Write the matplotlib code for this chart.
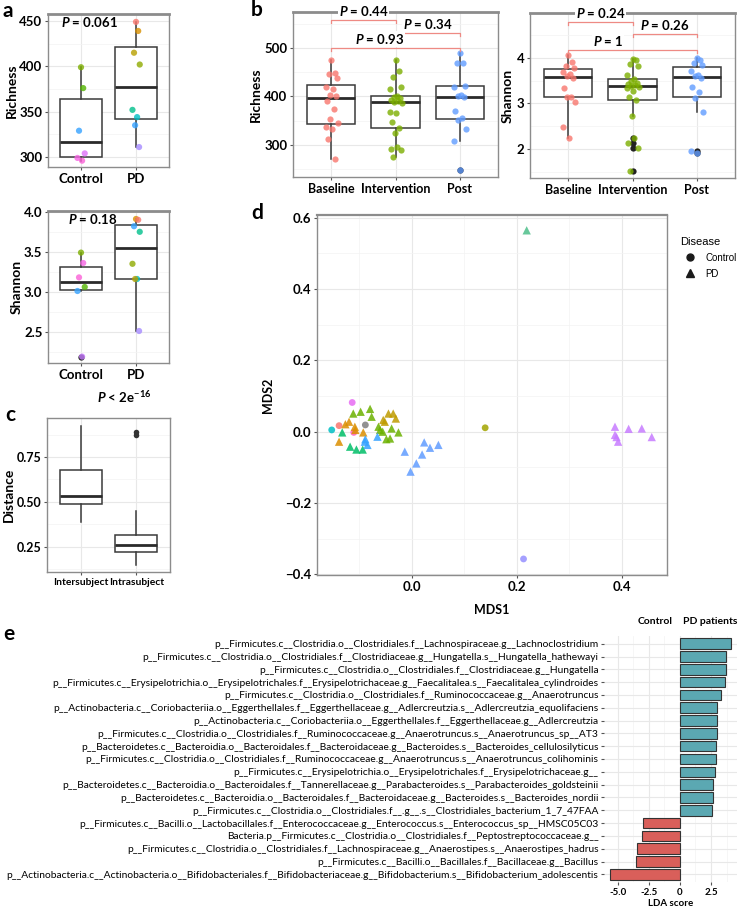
import matplotlib
matplotlib.use("Agg")
import matplotlib.pyplot as plt
from matplotlib import font_manager
from matplotlib.ticker import MultipleLocator, FormatStrFormatter, FuncFormatter
from matplotlib.lines import Line2D
import numpy as np

plt.rcParams['font.family'] = ['Lato', 'DejaVu Sans']
plt.rcParams['font.weight'] = 'bold'
plt.rcParams['axes.labelweight'] = 'bold'
plt.rcParams['mathtext.fontset'] = 'custom'
plt.rcParams['mathtext.it'] = 'Lato:bold:italic'
plt.rcParams['mathtext.rm'] = 'Lato:bold'
plt.rcParams['mathtext.bf'] = 'Lato:bold'

avail = {f.name for f in font_manager.fontManager.ttflist}
narrow = 'Liberation Sans Narrow' if 'Liberation Sans Narrow' in avail else 'Lato'

# ---- panel a data
rich_ctrl = [399, 376, 329, 304, 299, 296]
rich_ctrl_col = ['#7CAE00', '#53B400', '#35A2FF', '#DF70F8', '#F564E3', '#FB61D7']
rich_pd = [449, 439, 415, 402, 352, 344, 335, 311]
rich_pd_col = ['#F8766D', '#D89000', '#B79F00', '#8FAA00', '#00C08B', '#00BFC4', '#35A2FF', '#A58AFF']
shan_ctrl = [3.49, 3.36, 3.18, 3.06, 3.01, 2.19]
shan_ctrl_col = ['#7CAE00', '#F564E3', '#FB61D7', '#53B400', '#35A2FF', '#C77CFF']
shan_pd = [3.91, 3.90, 3.82, 3.75, 3.35, 3.16, 3.16, 2.51]
shan_pd_col = ['#D89000', '#F8766D', '#35A2FF', '#00C08B', '#8FAA00', '#00BFC4', '#B79F00', '#A58AFF']

# ---- panel b data
phases = ['Baseline', 'Intervention', 'Post']
phase_col = ['#F8766D', '#7CAE00', '#619CFF']
b_rich_base = [475, 448, 446, 438, 420, 415, 403, 401, 391, 374, 353, 345, 337, 333, 312, 271]
b_rich_int = [475, 453, 440, 419, 415, 400, 399, 396, 393, 391, 389, 386, 368, 366, 347, 335,
              325, 296, 291, 289, 275]
b_rich_post = [490, 469, 469, 421, 419, 402, 400, 398, 369, 356, 352, 333, 308, 249]
b_shan_base = [4.07, 3.92, 3.82, 3.78, 3.70, 3.65, 3.60, 3.56, 3.34, 3.15, 3.15, 3.04, 2.49, 2.24]
b_shan_int = [3.97, 3.96, 3.86, 3.82, 3.63, 3.53, 3.50, 3.44, 3.42, 3.40, 3.38, 3.36, 3.34, 3.28,
              3.15, 3.08, 2.73, 2.24, 2.13, 2.02, 1.52]
b_shan_post = [3.99, 3.95, 3.88, 3.84, 3.72, 3.63, 3.61, 3.55, 3.37, 3.25, 3.12, 2.82, 1.96, 1.92]

# ---- panel c (box statistics)
c_groups = ['Intersubject', 'Intrasubject']
c_lo = [0.39, 0.15]
c_q1 = [0.49, 0.22]
c_med = [0.535, 0.26]
c_q3 = [0.675, 0.315]
c_hi = [0.92, 0.45]
c_out = [[], [0.87, 0.89]]

# ---- panel d data
d_ctrl_x = [-0.113, -0.152, -0.138, -0.088, -0.110, 0.140, 0.213]
d_ctrl_y = [0.082, 0.005, 0.017, 0.019, -0.002, 0.011, -0.357]
d_ctrl_col = ['#E76BF3', '#00BFC4', '#F8766D', '#7F7F7F', '#FF61C3', '#A3A500', '#9590FF']
d_pd_x = [0.219,
          -0.111, -0.097, -0.079, -0.076, -0.063, -0.055, -0.038, -0.025, -0.048, -0.041, -0.060,
          -0.132, -0.117, -0.105, -0.093,
          -0.138, -0.126, -0.119, -0.108, -0.107, -0.092,
          -0.054, -0.044, -0.035, -0.030, -0.051,
          -0.088, -0.084, -0.089, -0.065,
          -0.013, -0.002, 0.009, 0.020, 0.024, 0.035, 0.051,
          0.387, 0.387, 0.390, 0.393, 0.413, 0.438, 0.457]
d_pd_y = [0.565,
          0.051, 0.056, 0.064, 0.042, 0.014, 0.000, 0.009, -0.002, -0.021, -0.019, 0.005,
          -0.002, -0.042, -0.050, -0.050,
          -0.028, 0.021, 0.028, 0.014, 0.005, -0.002,
          0.033, 0.051, 0.051, 0.037, 0.028,
          -0.021, -0.037, -0.028, -0.014,
          -0.056, -0.112, -0.089, -0.064, -0.030, -0.045, -0.037,
          0.014, -0.009, -0.015, -0.028, 0.008, 0.009, -0.015]
d_pd_col = (['#4DBF8A'] + ['#6BB100'] * 11 + ['#00BE67'] * 4 + ['#DB8E00'] * 6 +
            ['#BF9B00'] * 5 + ['#35A2FF'] * 4 + ['#619CFF'] * 7 + ['#C77CFF'] * 7)

# ---- panel e data
e_taxa = [
    'p__Firmicutes.c__Clostridia.o__Clostridiales.f__Lachnospiraceae.g__Lachnoclostridium',
    'p__Firmicutes.c__Clostridia.o__Clostridiales.f__Clostridiaceae.g__Hungatella.s__Hungatella_hathewayi',
    'p__Firmicutes.c__Clostridia.o__Clostridiales.f__Clostridiaceae.g__Hungatella',
    'p__Firmicutes.c__Erysipelotrichia.o__Erysipelotrichales.f__Erysipelotrichaceae.g__Faecalitalea.s__Faecalitalea_cylindroides',
    'p__Firmicutes.c__Clostridia.o__Clostridiales.f__Ruminococcaceae.g__Anaerotruncus',
    'p__Actinobacteria.c__Coriobacteriia.o__Eggerthellales.f__Eggerthellaceae.g__Adlercreutzia.s__Adlercreutzia_equolifaciens',
    'p__Actinobacteria.c__Coriobacteriia.o__Eggerthellales.f__Eggerthellaceae.g__Adlercreutzia',
    'p__Firmicutes.c__Clostridia.o__Clostridiales.f__Ruminococcaceae.g__Anaerotruncus.s__Anaerotruncus_sp__AT3',
    'p__Bacteroidetes.c__Bacteroidia.o__Bacteroidales.f__Bacteroidaceae.g__Bacteroides.s__Bacteroides_cellulosilyticus',
    'p__Firmicutes.c__Clostridia.o__Clostridiales.f__Ruminococcaceae.g__Anaerotruncus.s__Anaerotruncus_colihominis',
    'p__Firmicutes.c__Erysipelotrichia.o__Erysipelotrichales.f__Erysipelotrichaceae.g__',
    'p__Bacteroidetes.c__Bacteroidia.o__Bacteroidales.f__Tannerellaceae.g__Parabacteroides.s__Parabacteroides_goldsteinii',
    'p__Bacteroidetes.c__Bacteroidia.o__Bacteroidales.f__Bacteroidaceae.g__Bacteroides.s__Bacteroides_nordii',
    'p__Firmicutes.c__Clostridia.o__Clostridiales.f__.g__.s__Clostridiales_bacterium_1_7_47FAA',
    'p__Firmicutes.c__Bacilli.o__Lactobacillales.f__Enterococcaceae.g__Enterococcus.s__Enterococcus_sp__HMSC05C03',
    'Bacteria.p__Firmicutes.c__Clostridia.o__Clostridiales.f__Peptostreptococcaceae.g__',
    'p__Firmicutes.c__Clostridia.o__Clostridiales.f__Lachnospiraceae.g__Anaerostipes.s__Anaerostipes_hadrus',
    'p__Firmicutes.c__Bacilli.o__Bacillales.f__Bacillaceae.g__Bacillus',
    'p__Actinobacteria.c__Actinobacteria.o__Bifidobacteriales.f__Bifidobacteriaceae.g__Bifidobacterium.s__Bifidobacterium_adolescentis',
]
e_lda = [4.1, 3.7, 3.7, 3.6, 3.3, 3.0, 3.0, 2.95, 2.9, 2.9, 2.8, 2.65, 2.65, 2.6,
         -2.95, -3.05, -3.45, -3.55, -5.6]

W, H = 738, 908
fig = plt.figure(figsize=(W / 100, H / 100), dpi=100)

JIT = np.array([0.0, 0.5, -0.45, 0.85, -0.8, 0.25, -0.2, 0.7, -0.65, 0.4, -0.3, 0.95,
                -0.9, 0.1, -0.55, 0.6, -0.1, 0.3, -0.75, 0.8, -0.35, 0.15])

minus_fmt = FuncFormatter(lambda v, p: ('%.1f' % v).replace('-', '\u2212'))


def px_axes(x0, y0, x1, y1):
    return fig.add_axes([x0 / W, 1 - y1 / H, (x1 - x0) / W, (y1 - y0) / H])


def style_ax(ax, top_lw=1.0, size=9):
    for s in ax.spines.values():
        s.set_color('#8c8c8c')
        s.set_linewidth(1.0)
    ax.spines['top'].set_linewidth(top_lw)
    ax.grid(True, which='major', color='#e8e8e8', lw=0.8)
    ax.grid(True, which='minor', color='#f3f3f3', lw=0.5)
    ax.set_axisbelow(True)
    ax.tick_params(which='major', length=2.5, width=0.8, color='#555555', labelsize=size, pad=1.5)
    ax.tick_params(which='minor', length=0)


def boxes(ax, groups):
    ax.boxplot(groups, positions=np.arange(1, len(groups) + 1), widths=0.75, patch_artist=True,
               showcaps=False,
               boxprops=dict(facecolor='white', edgecolor='#3a3a3a', linewidth=1.1),
               whiskerprops=dict(color='#3a3a3a', linewidth=1.1),
               medianprops=dict(color='#2a2a2a', linewidth=2.0),
               flierprops=dict(marker='o', markerfacecolor='#222222', markeredgecolor='none',
                               markersize=4.5),
               zorder=2)


def points(ax, pos, vals, colors, spread):
    off = JIT[:len(vals)] * spread
    ax.scatter(pos + off, vals, c=colors, s=20, alpha=0.8, linewidths=0, zorder=3)


def bracket(ax, x1, x2, y, tick, label, tx, ty):
    ax.plot([x1, x1, x2, x2], [y - tick, y, y, y - tick], color='#ee8a84', lw=0.9,
            clip_on=False, zorder=4)
    ax.text(tx, ty, label, ha='center', va='bottom', fontsize=9.5, clip_on=False, zorder=5,
            bbox=dict(facecolor='white', edgecolor='none', pad=0.5))


# ---- a: richness
ax = px_axes(48, 14, 169, 167)
boxes(ax, [rich_ctrl, rich_pd])
points(ax, 1, rich_ctrl, rich_ctrl_col, 0.08)
points(ax, 2, rich_pd, rich_pd_col, 0.08)
ax.set_xlim(0.4, 2.6)
ax.set_ylim(289, 457.7)
ax.yaxis.set_major_locator(MultipleLocator(50))
ax.yaxis.set_minor_locator(MultipleLocator(25))
ax.set_xticks([1, 2], ['Control', 'PD'])
style_ax(ax, top_lw=2.0, size=9.5)
ax.set_ylabel('Richness', fontsize=10, labelpad=1)
ax.text(1.15, 449, '$P$ = 0.061', ha='center', va='center', fontsize=9.5)

# ---- a: shannon
ax = px_axes(48, 211, 169, 363)
boxes(ax, [shan_ctrl, shan_pd])
points(ax, 1, shan_ctrl, shan_ctrl_col, 0.08)
points(ax, 2, shan_pd, shan_pd_col, 0.08)
ax.set_xlim(0.4, 2.6)
ax.set_ylim(2.11, 4.01)
ax.yaxis.set_major_locator(MultipleLocator(0.5))
ax.yaxis.set_minor_locator(MultipleLocator(0.25))
ax.yaxis.set_major_formatter(FormatStrFormatter('%.1f'))
ax.set_xticks([1, 2], ['Control', 'PD'])
style_ax(ax, top_lw=2.0, size=9.5)
ax.set_ylabel('Shannon', fontsize=10, labelpad=1)
ax.text(1.22, 3.915, '$P$ = 0.18', ha='center', va='center', fontsize=9.5)

# ---- c: distance
ax = px_axes(47, 418, 170, 572)
stats = [dict(whislo=c_lo[i], q1=c_q1[i], med=c_med[i], q3=c_q3[i], whishi=c_hi[i],
              fliers=c_out[i], label=c_groups[i]) for i in range(2)]
ax.bxp(stats, positions=[1, 2], widths=0.75, showcaps=False, patch_artist=True,
       boxprops=dict(facecolor='white', edgecolor='#3a3a3a', linewidth=1.1),
       whiskerprops=dict(color='#3a3a3a', linewidth=1.1),
       medianprops=dict(color='#2a2a2a', linewidth=2.0),
       flierprops=dict(marker='o', markerfacecolor='#333333', markeredgecolor='none',
                       markersize=4))
ax.set_xlim(0.4, 2.6)
ax.set_ylim(0.11, 0.967)
ax.set_yticks([0.25, 0.5, 0.75])
ax.yaxis.set_major_formatter(FormatStrFormatter('%.2f'))
ax.yaxis.set_minor_locator(MultipleLocator(0.125))
style_ax(ax, size=9)
ax.tick_params(axis='x', labelsize=7.4)
ax.set_ylabel('Distance', fontsize=10, labelpad=1)
fig.text(97 / W, 1 - 397 / H, '$P$ < 2e$^{-16}$', ha='left', va='center', fontsize=9.5)

# ---- b: richness
ax = px_axes(293, 12, 498, 177)
boxes(ax, [b_rich_base, b_rich_int, b_rich_post])
for i, g in enumerate([b_rich_base, b_rich_int, b_rich_post]):
    points(ax, i + 1, g, phase_col[i], 0.1)
ax.set_xlim(0.4, 3.6)
ax.set_ylim(234, 574)
ax.yaxis.set_major_locator(MultipleLocator(100))
ax.yaxis.set_minor_locator(MultipleLocator(50))
ax.set_xticks([1, 2, 3], phases)
style_ax(ax, top_lw=2.0, size=9.5)
ax.tick_params(axis='x', labelsize=9)
ax.set_ylabel('Richness', fontsize=10, labelpad=2)
bracket(ax, 1, 2, 558, 6, '$P$ = 0.44', 1.5, 562)
bracket(ax, 2, 3, 531, 6, '$P$ = 0.34', 2.5, 535)
bracket(ax, 1, 3, 500, 6, '$P$ = 0.93', 1.75, 504)

# ---- b: shannon
ax = px_axes(530, 13, 735, 178)
boxes(ax, [b_shan_base, b_shan_int, b_shan_post])
for i, g in enumerate([b_shan_base, b_shan_int, b_shan_post]):
    points(ax, i + 1, g, phase_col[i], 0.1)
ax.set_xlim(0.4, 3.6)
ax.set_ylim(1.36, 4.99)
ax.yaxis.set_major_locator(MultipleLocator(1))
ax.yaxis.set_minor_locator(MultipleLocator(0.5))
ax.set_xticks([1, 2, 3], phases)
style_ax(ax, top_lw=2.0, size=9.5)
ax.tick_params(axis='x', labelsize=9)
ax.set_ylabel('Shannon', fontsize=10, labelpad=2)
bracket(ax, 1, 2, 4.79, 0.066, '$P$ = 0.24', 1.5, 4.835)
bracket(ax, 2, 3, 4.53, 0.066, '$P$ = 0.26', 2.5, 4.57)
bracket(ax, 1, 3, 4.18, 0.066, '$P$ = 1', 1.62, 4.22)

# ---- d: MDS
ax = px_axes(317, 215, 667, 575)
ax.scatter(d_ctrl_x, d_ctrl_y, c=d_ctrl_col, marker='o', s=24, alpha=0.85, linewidths=0, zorder=3)
ax.scatter(d_pd_x, d_pd_y, c=d_pd_col, marker='^', s=36, alpha=0.85, linewidths=0, zorder=3)
ax.set_xlim(-0.180, 0.486)
ax.set_ylim(-0.402, 0.608)
ax.xaxis.set_major_locator(MultipleLocator(0.2))
ax.xaxis.set_minor_locator(MultipleLocator(0.1))
ax.yaxis.set_major_locator(MultipleLocator(0.2))
ax.yaxis.set_minor_locator(MultipleLocator(0.1))
ax.xaxis.set_major_formatter(minus_fmt)
ax.yaxis.set_major_formatter(minus_fmt)
style_ax(ax, top_lw=1.6, size=9.5)
ax.set_xlabel('MDS1', fontsize=9, labelpad=8)
ax.set_ylabel('MDS2', fontsize=9, labelpad=8)
handles = [Line2D([], [], ls='none', marker='o', color='#1a1a1a', markersize=5),
           Line2D([], [], ls='none', marker='^', color='#1a1a1a', markersize=6)]
leg = fig.legend(handles, ['Control', 'PD'], title='Disease', loc='upper left',
                 bbox_to_anchor=(675 / W, 1 - 232 / H), frameon=False,
                 prop=dict(family='Liberation Sans', weight='normal', size=7),
                 handletextpad=0.6, labelspacing=0.6, borderpad=0)
leg.get_title().set_fontproperties(dict(family='Liberation Sans', weight='normal', size=8))
leg._legend_box.align = 'left'

# ---- e: LDA
ax = px_axes(604, 636, 737, 882)
ypos = np.arange(len(e_taxa))[::-1]
bar_col = ['#5BA8B2' if v > 0 else '#D95F5A' for v in e_lda]
ax.barh(ypos, e_lda, height=0.82, color=bar_col, edgecolor='#333333', linewidth=0.8, zorder=3)
ax.set_ylim(-0.6, len(e_taxa) - 0.4)
ax.set_xlim(-6.09, 4.59)
ax.set_yticks(ypos, e_taxa)
ax.set_xticks([-5, -2.5, 0, 2.5], ['-5.0', '-2.5', '0', '2.5'])
ax.xaxis.set_minor_locator(MultipleLocator(1.25))
style_ax(ax, size=7)
ax.spines[:].set_visible(False)
ylabs = ax.get_yticklabels()
for lab in ylabs:
    lab.set_fontfamily([narrow, 'DejaVu Sans'])
    lab.set_fontweight('normal')
    lab.set_fontsize(7.5)
ax.set_xlabel('LDA score', fontsize=7, labelpad=2)
fig.text(655 / W, 1 - 622 / H, 'Control', ha='center', va='center', fontsize=7.5)
fig.text(710 / W, 1 - 622 / H, 'PD patients', ha='center', va='center', fontsize=7.5)

# fit the long taxon names into the space left of the bars
fig.canvas.draw()
rend = fig.canvas.get_renderer()
widest = max(lab.get_window_extent(rend).width for lab in ylabs)
new_size = min(7.5, 7.5 * 590 / widest)
for lab in ylabs:
    lab.set_fontsize(new_size)

# ---- panel letters
for letter, x, y in [('a', 8, 11), ('b', 257, 10), ('c', 10, 415), ('d', 257, 213), ('e', 9, 634)]:
    fig.text(x / W, 1 - y / H, letter, ha='center', va='center', fontsize=15, fontweight='bold')

fig.savefig('out.png', dpi=100, facecolor='white')
